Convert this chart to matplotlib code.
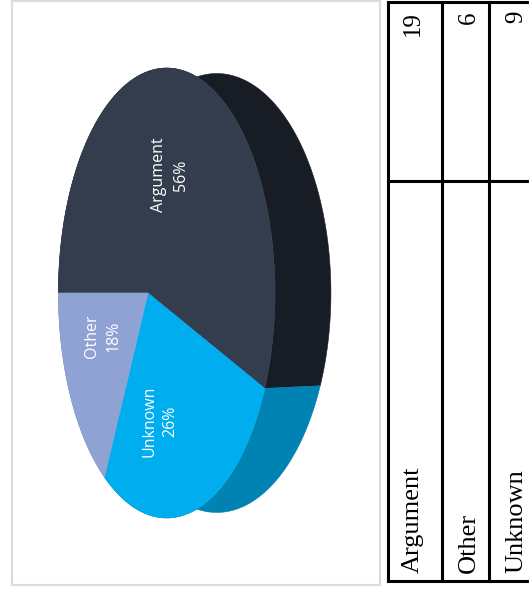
import numpy as np
import matplotlib
matplotlib.use('Agg')  # 无显示环境
import matplotlib.pyplot as plt
from matplotlib.patches import Polygon, Rectangle

# ============ data ============ #
labels = ["Argument", "Other", "Unknown"]
counts = [19, 6, 9]
pie_order = ["Argument", "Unknown", "Other"]   # clockwise from 12 o'clock

top_colors = {"Argument": "#343d4d", "Unknown": "#00adef", "Other": "#8fa2d4"}
side_colors = {"Argument": "#181c25", "Unknown": "#0083b3", "Other": "#6d7fae"}

# label anchors (page is turned 90 deg, so text reads bottom to top)
label_pos = {"Argument": (170, 175), "Other": (103, 336), "Unknown": (160, 421)}

# ============ camera for the 3D pie ============ #
PHI = np.radians(28.3)   # elevation
DIST = 5.1               # camera distance (radius = 1)
H = 0.26                 # pie thickness
CX, CY = 148, 293        # projected centre (pixels)
SCALE = 1130


def project(u, v, z):
    s, c = np.sin(PHI), np.cos(PHI)
    du = u - DIST * c
    dz = z - DIST * s
    depth = -(c * du + s * dz)
    su = -s * du + c * dz
    return np.column_stack([CX - SCALE * su / depth, CY + SCALE * v / depth])


W, Hpx = 529, 592
fig = plt.figure(figsize=(W / 100, Hpx / 100), dpi=100)
ax = fig.add_axes([0, 0, 1, 1])
ax.set_xlim(0, W)
ax.set_ylim(Hpx, 0)
ax.axis("off")

# chart panel
ax.add_patch(Rectangle((12, 1), 368, 584, facecolor="white", edgecolor="#dcdcdc", lw=1.6))

total = sum(counts)
vals = [counts[labels.index(n)] for n in pie_order]
bounds = np.concatenate([[0], np.cumsum(vals)]) / total * 2 * np.pi

wedges = []
for name, a0, a1 in zip(pie_order, bounds[:-1], bounds[1:]):
    n = max(int((a1 - a0) / np.pi * 180), 4)
    t = np.linspace(a0, a1, n)
    u, v = -np.cos(t), -np.sin(t)
    wedges.append((name, project(u, v, 0 * t), project(u, v, -H + 0 * t)))

# side walls first
for name, top, bot in wedges:
    pts = np.vstack([top, bot[::-1]])
    ax.add_patch(Polygon(pts, closed=True, facecolor=side_colors[name],
                         edgecolor=side_colors[name], lw=0.4))

# top faces
centre = project(np.array([0.0]), np.array([0.0]), np.array([0.0]))
for name, top, bot in wedges:
    pts = np.vstack([centre, top])
    ax.add_patch(Polygon(pts, closed=True, facecolor=top_colors[name],
                         edgecolor=top_colors[name], lw=0.4))

for name, cnt in zip(labels, counts):
    pct = round(100 * cnt / total)
    x, y = label_pos[name]
    ax.text(x, y, f"{name}\n{pct}%", rotation=90, ha="center", va="center",
            multialignment="center", linespacing=1.42, color="white",
            fontsize=11.5, family=["Open Sans", "DejaVu Sans"])

# ============ table ============ #
row_edges = [388, 442, 489]
col_split = 181
tbl_top, tbl_bot = 1.5, 581
lw = 2.2
for xe in row_edges:
    ax.plot([xe, xe], [tbl_top, tbl_bot], color="black", lw=lw, solid_capstyle="projecting")
for ye in [tbl_top, col_split, tbl_bot]:
    ax.plot([row_edges[0], W + 5], [ye, ye], color="black", lw=lw, solid_capstyle="projecting")

serif = ["Liberation Serif", "DejaVu Serif"]
baselines = [419, 475, 522]
for name, cnt, bx in zip(labels, counts, baselines):
    ax.text(bx, 573, name, rotation=90, rotation_mode="anchor", ha="left", va="baseline",
            fontsize=19, family=serif, color="black")
    ax.text(bx, 11, str(cnt), rotation=90, rotation_mode="anchor", ha="right", va="baseline",
            fontsize=18, family=serif, color="black")

fig.savefig("out.png", dpi=100)
plt.close(fig)
